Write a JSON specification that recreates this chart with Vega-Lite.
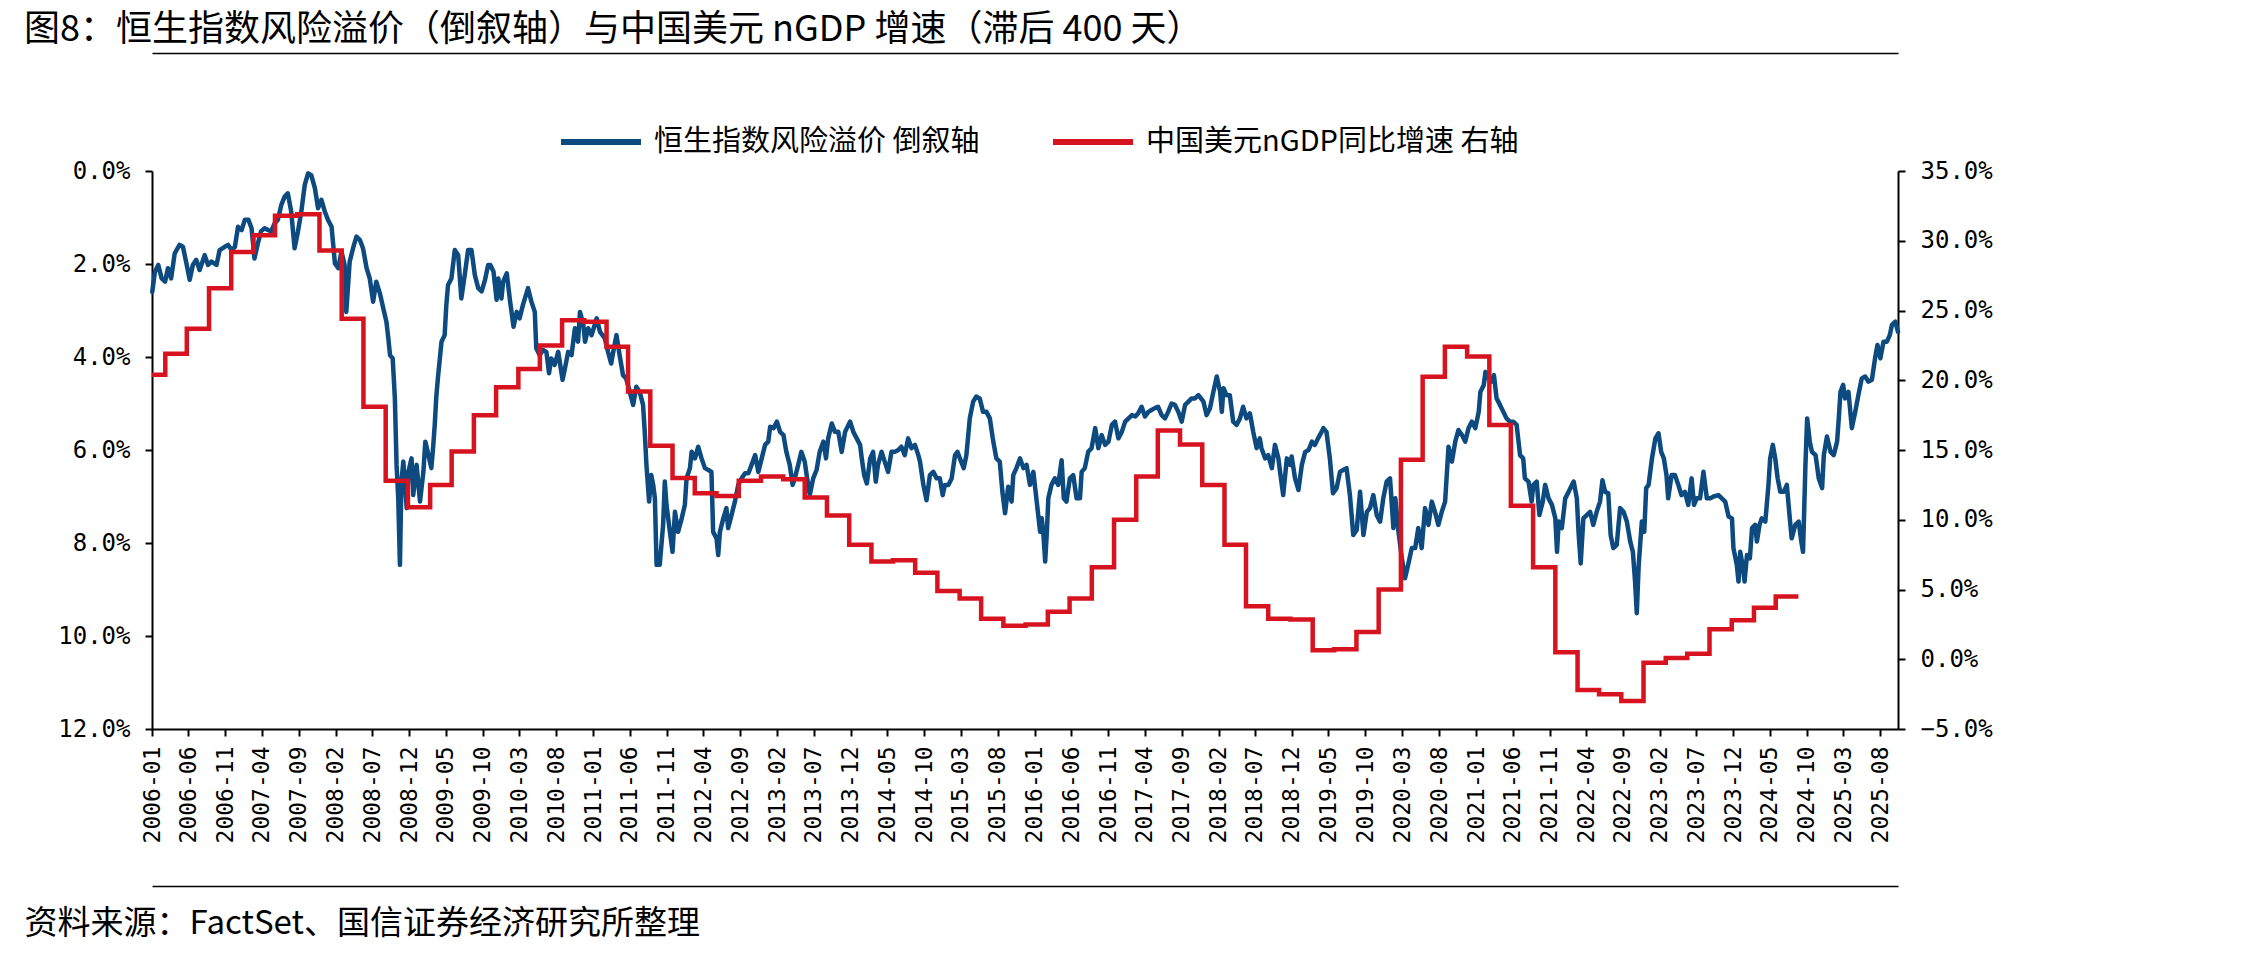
{
  "$schema": "https://vega.github.io/schema/vega-lite/v6.json",
  "description": "Hang Seng index equity risk premium (inverted left axis) against China's USD nominal GDP growth lagged 400 days (right axis).",
  "width": 1746,
  "height": 558,
  "autosize": {"type": "none"},
  "padding": {"left": 152, "top": 171, "right": 346, "bottom": 224},
  "background": "#ffffff",
  "title": {
    "text": "图8：恒生指数风险溢价（倒叙轴）与中国美元 nGDP 增速（滞后 400 天）",
    "anchor": "start",
    "frame": "group",
    "dx": -128,
    "offset": 4,
    "font": "Noto Sans CJK SC",
    "fontSize": 36,
    "fontWeight": "normal",
    "color": "#000000"
  },
  "datasets": {
    "hsi": [
      {"date": "2006-01-02", "premium": 2.60}, {"date": "2006-01-13", "premium": 2.17}, {"date": "2006-01-27", "premium": 2.02}, {"date": "2006-02-10", "premium": 2.31}, {"date": "2006-02-24", "premium": 2.38}, {"date": "2006-03-08", "premium": 2.09}, {"date": "2006-03-21", "premium": 2.31}, {"date": "2006-04-05", "premium": 1.77}, {"date": "2006-04-25", "premium": 1.59}, {"date": "2006-05-09", "premium": 1.63}, {"date": "2006-05-22", "premium": 1.95}, {"date": "2006-06-06", "premium": 2.34}, {"date": "2006-06-19", "premium": 2.02}, {"date": "2006-07-03", "premium": 1.91}, {"date": "2006-07-17", "premium": 2.13}, {"date": "2006-08-07", "premium": 1.81}, {"date": "2006-08-21", "premium": 2.02}, {"date": "2006-09-04", "premium": 1.95}, {"date": "2006-09-25", "premium": 2.02}, {"date": "2006-10-08", "premium": 1.70}, {"date": "2006-10-29", "premium": 1.63}, {"date": "2006-11-12", "premium": 1.59}, {"date": "2006-11-26", "premium": 1.70}, {"date": "2006-12-10", "premium": 1.63}, {"date": "2006-12-23", "premium": 1.20},
      {"date": "2007-01-07", "premium": 1.27}, {"date": "2007-01-20", "premium": 1.05}, {"date": "2007-02-04", "premium": 1.05}, {"date": "2007-02-17", "premium": 1.23}, {"date": "2007-03-01", "premium": 1.88}, {"date": "2007-03-15", "premium": 1.56}, {"date": "2007-03-28", "premium": 1.30}, {"date": "2007-04-12", "premium": 1.23}, {"date": "2007-04-26", "premium": 1.27}, {"date": "2007-05-09", "premium": 1.30}, {"date": "2007-05-23", "premium": 1.13}, {"date": "2007-06-06", "premium": 1.05}, {"date": "2007-06-20", "premium": 0.73}, {"date": "2007-07-04", "premium": 0.55}, {"date": "2007-07-17", "premium": 0.48}, {"date": "2007-07-31", "premium": 0.87}, {"date": "2007-08-14", "premium": 1.66}, {"date": "2007-08-28", "premium": 1.30}, {"date": "2007-09-11", "premium": 0.87}, {"date": "2007-09-25", "premium": 0.30}, {"date": "2007-10-09", "premium": 0.05}, {"date": "2007-10-22", "premium": 0.09}, {"date": "2007-11-06", "premium": 0.37}, {"date": "2007-11-19", "premium": 0.80}, {"date": "2007-12-03", "premium": 0.62}, {"date": "2007-12-17", "premium": 0.87}, {"date": "2007-12-30", "premium": 1.05},
      {"date": "2008-01-14", "premium": 1.20}, {"date": "2008-01-28", "premium": 1.99}, {"date": "2008-02-11", "premium": 2.09}, {"date": "2008-02-24", "premium": 1.73}, {"date": "2008-03-08", "premium": 2.02}, {"date": "2008-03-15", "premium": 3.03}, {"date": "2008-03-29", "premium": 1.95}, {"date": "2008-04-12", "premium": 1.66}, {"date": "2008-04-26", "premium": 1.41}, {"date": "2008-05-10", "premium": 1.48}, {"date": "2008-05-23", "premium": 1.66}, {"date": "2008-06-07", "premium": 2.09}, {"date": "2008-06-20", "premium": 2.31}, {"date": "2008-07-04", "premium": 2.81}, {"date": "2008-07-17", "premium": 2.38}, {"date": "2008-08-01", "premium": 2.63}, {"date": "2008-08-15", "premium": 2.95}, {"date": "2008-08-28", "premium": 3.24}, {"date": "2008-09-05", "premium": 3.60}, {"date": "2008-09-12", "premium": 3.96}, {"date": "2008-09-23", "premium": 4.03}, {"date": "2008-10-02", "premium": 4.89}, {"date": "2008-10-09", "premium": 6.32}, {"date": "2008-10-16", "premium": 7.04}, {"date": "2008-10-23", "premium": 8.47}, {"date": "2008-10-29", "premium": 6.68}, {"date": "2008-11-06", "premium": 6.25}, {"date": "2008-11-20", "premium": 7.25}, {"date": "2008-11-27", "premium": 6.47}, {"date": "2008-12-10", "premium": 6.18}, {"date": "2008-12-17", "premium": 6.97}, {"date": "2008-12-31", "premium": 6.32},
      {"date": "2009-01-14", "premium": 7.11}, {"date": "2009-01-28", "premium": 6.47}, {"date": "2009-02-05", "premium": 5.82}, {"date": "2009-02-18", "premium": 6.11}, {"date": "2009-03-02", "premium": 6.39}, {"date": "2009-03-09", "premium": 5.96}, {"date": "2009-03-16", "premium": 5.46}, {"date": "2009-03-22", "premium": 4.89}, {"date": "2009-03-29", "premium": 4.46}, {"date": "2009-04-13", "premium": 3.67}, {"date": "2009-04-26", "premium": 3.53}, {"date": "2009-05-03", "premium": 2.88}, {"date": "2009-05-10", "premium": 2.45}, {"date": "2009-05-24", "premium": 2.31}, {"date": "2009-06-07", "premium": 1.70}, {"date": "2009-06-21", "premium": 1.81}, {"date": "2009-07-04", "premium": 2.74}, {"date": "2009-07-18", "premium": 2.24}, {"date": "2009-08-01", "premium": 1.70}, {"date": "2009-08-15", "premium": 1.70}, {"date": "2009-08-29", "premium": 2.24}, {"date": "2009-09-12", "premium": 2.52}, {"date": "2009-09-26", "premium": 2.59}, {"date": "2009-10-10", "premium": 2.34}, {"date": "2009-10-23", "premium": 2.02}, {"date": "2009-11-01", "premium": 2.02}, {"date": "2009-11-14", "premium": 2.16}, {"date": "2009-11-27", "premium": 2.77}, {"date": "2009-12-04", "premium": 2.31}, {"date": "2009-12-17", "premium": 2.74}, {"date": "2009-12-24", "premium": 2.38},
      {"date": "2010-01-08", "premium": 2.20}, {"date": "2010-01-22", "premium": 2.81}, {"date": "2010-02-05", "premium": 3.35}, {"date": "2010-02-18", "premium": 3.03}, {"date": "2010-03-02", "premium": 3.17}, {"date": "2010-03-16", "premium": 2.88}, {"date": "2010-04-06", "premium": 2.52}, {"date": "2010-04-20", "premium": 2.81}, {"date": "2010-05-04", "premium": 3.03}, {"date": "2010-05-10", "premium": 3.81}, {"date": "2010-05-24", "premium": 3.96}, {"date": "2010-06-07", "premium": 3.85}, {"date": "2010-06-21", "premium": 3.89}, {"date": "2010-07-02", "premium": 4.35}, {"date": "2010-07-11", "premium": 4.03}, {"date": "2010-07-25", "premium": 4.17}, {"date": "2010-08-09", "premium": 3.89}, {"date": "2010-08-27", "premium": 4.49}, {"date": "2010-09-06", "premium": 4.24}, {"date": "2010-09-19", "premium": 3.89}, {"date": "2010-10-03", "premium": 3.96}, {"date": "2010-10-17", "premium": 3.38}, {"date": "2010-10-30", "premium": 3.67}, {"date": "2010-11-07", "premium": 3.03}, {"date": "2010-11-21", "premium": 3.31}, {"date": "2010-11-28", "premium": 3.67}, {"date": "2010-12-11", "premium": 3.38}, {"date": "2010-12-25", "premium": 3.53},
      {"date": "2011-01-15", "premium": 3.17}, {"date": "2011-01-29", "premium": 3.46}, {"date": "2011-02-18", "premium": 3.60}, {"date": "2011-03-03", "premium": 3.89}, {"date": "2011-03-16", "premium": 4.14}, {"date": "2011-03-30", "premium": 3.74}, {"date": "2011-04-07", "premium": 3.53}, {"date": "2011-04-20", "premium": 3.96}, {"date": "2011-05-04", "premium": 4.39}, {"date": "2011-05-17", "premium": 4.46}, {"date": "2011-06-01", "premium": 4.75}, {"date": "2011-06-15", "premium": 5.03}, {"date": "2011-06-28", "premium": 4.64}, {"date": "2011-07-12", "premium": 4.75}, {"date": "2011-07-26", "premium": 5.03}, {"date": "2011-08-02", "premium": 5.61}, {"date": "2011-08-09", "premium": 6.32}, {"date": "2011-08-20", "premium": 7.11}, {"date": "2011-08-29", "premium": 6.54}, {"date": "2011-09-06", "premium": 6.75}, {"date": "2011-09-13", "premium": 7.04}, {"date": "2011-09-20", "premium": 8.47}, {"date": "2011-10-03", "premium": 8.47}, {"date": "2011-10-17", "premium": 7.61}, {"date": "2011-10-24", "premium": 6.68}, {"date": "2011-10-31", "premium": 7.18}, {"date": "2011-11-14", "premium": 7.76}, {"date": "2011-11-25", "premium": 8.19}, {"date": "2011-12-05", "premium": 7.33}, {"date": "2011-12-18", "premium": 7.76},
      {"date": "2012-01-02", "premium": 7.47}, {"date": "2012-01-15", "premium": 7.18}, {"date": "2012-01-22", "premium": 6.61}, {"date": "2012-02-05", "premium": 6.39}, {"date": "2012-02-12", "premium": 6.04}, {"date": "2012-02-26", "premium": 6.18}, {"date": "2012-03-10", "premium": 5.93}, {"date": "2012-03-24", "premium": 6.18}, {"date": "2012-04-07", "premium": 6.39}, {"date": "2012-04-21", "premium": 6.43}, {"date": "2012-05-04", "premium": 6.47}, {"date": "2012-05-11", "premium": 7.76}, {"date": "2012-05-25", "premium": 7.90}, {"date": "2012-06-01", "premium": 8.26}, {"date": "2012-06-08", "premium": 7.76}, {"date": "2012-06-22", "premium": 7.47}, {"date": "2012-07-05", "premium": 7.25}, {"date": "2012-07-12", "premium": 7.68}, {"date": "2012-07-26", "premium": 7.40}, {"date": "2012-08-09", "premium": 7.11}, {"date": "2012-08-23", "premium": 6.75}, {"date": "2012-09-06", "premium": 6.61}, {"date": "2012-09-20", "premium": 6.50}, {"date": "2012-10-04", "premium": 6.50}, {"date": "2012-10-17", "premium": 6.32}, {"date": "2012-11-01", "premium": 6.11}, {"date": "2012-11-14", "premium": 6.47}, {"date": "2012-11-28", "premium": 6.18}, {"date": "2012-12-12", "premium": 5.89}, {"date": "2012-12-25", "premium": 5.82},
      {"date": "2013-01-02", "premium": 5.50}, {"date": "2013-01-16", "premium": 5.53}, {"date": "2013-01-30", "premium": 5.39}, {"date": "2013-02-12", "premium": 5.61}, {"date": "2013-02-26", "premium": 5.68}, {"date": "2013-03-10", "premium": 6.04}, {"date": "2013-03-24", "premium": 6.32}, {"date": "2013-04-05", "premium": 6.75}, {"date": "2013-04-14", "premium": 6.61}, {"date": "2013-04-28", "premium": 6.32}, {"date": "2013-05-11", "premium": 6.04}, {"date": "2013-05-25", "premium": 6.25}, {"date": "2013-06-02", "premium": 6.54}, {"date": "2013-06-15", "premium": 6.97}, {"date": "2013-06-29", "premium": 6.61}, {"date": "2013-07-13", "premium": 6.43}, {"date": "2013-07-26", "premium": 6.04}, {"date": "2013-08-10", "premium": 5.82}, {"date": "2013-08-21", "premium": 6.18}, {"date": "2013-08-30", "premium": 5.75}, {"date": "2013-09-14", "premium": 5.43}, {"date": "2013-09-27", "premium": 5.61}, {"date": "2013-10-11", "premium": 5.61}, {"date": "2013-10-25", "premium": 6.04}, {"date": "2013-11-08", "premium": 5.61}, {"date": "2013-11-22", "premium": 5.46}, {"date": "2013-11-29", "premium": 5.39}, {"date": "2013-12-12", "premium": 5.61}, {"date": "2013-12-26", "premium": 5.75},
      {"date": "2014-01-09", "premium": 5.89}, {"date": "2014-01-16", "premium": 6.18}, {"date": "2014-01-26", "premium": 6.54}, {"date": "2014-02-06", "premium": 6.72}, {"date": "2014-02-20", "premium": 6.18}, {"date": "2014-03-04", "premium": 6.04}, {"date": "2014-03-15", "premium": 6.68}, {"date": "2014-03-24", "premium": 6.32}, {"date": "2014-04-08", "premium": 6.04}, {"date": "2014-04-21", "premium": 6.25}, {"date": "2014-05-05", "premium": 6.47}, {"date": "2014-05-19", "premium": 6.04}, {"date": "2014-06-02", "premium": 6.04}, {"date": "2014-06-16", "premium": 6.00}, {"date": "2014-06-29", "premium": 5.93}, {"date": "2014-07-13", "premium": 6.11}, {"date": "2014-07-27", "premium": 5.75}, {"date": "2014-08-10", "premium": 5.96}, {"date": "2014-08-24", "premium": 5.89}, {"date": "2014-09-07", "premium": 6.11}, {"date": "2014-09-14", "premium": 6.25}, {"date": "2014-09-28", "premium": 6.75}, {"date": "2014-10-11", "premium": 7.08}, {"date": "2014-10-25", "premium": 6.54}, {"date": "2014-11-08", "premium": 6.47}, {"date": "2014-11-22", "premium": 6.61}, {"date": "2014-12-05", "premium": 6.61}, {"date": "2014-12-17", "premium": 6.97}, {"date": "2014-12-26", "premium": 6.75},
      {"date": "2015-01-10", "premium": 6.75}, {"date": "2015-01-23", "premium": 6.61}, {"date": "2015-02-06", "premium": 6.11}, {"date": "2015-02-16", "premium": 6.04}, {"date": "2015-02-26", "premium": 6.18}, {"date": "2015-03-14", "premium": 6.39}, {"date": "2015-03-25", "premium": 6.11}, {"date": "2015-04-08", "premium": 5.32}, {"date": "2015-04-22", "premium": 4.96}, {"date": "2015-05-05", "premium": 4.85}, {"date": "2015-05-19", "premium": 4.89}, {"date": "2015-06-02", "premium": 5.18}, {"date": "2015-06-16", "premium": 5.18}, {"date": "2015-06-30", "premium": 5.32}, {"date": "2015-07-13", "premium": 5.78}, {"date": "2015-07-27", "premium": 6.18}, {"date": "2015-08-10", "premium": 6.25}, {"date": "2015-08-21", "premium": 6.90}, {"date": "2015-09-01", "premium": 7.36}, {"date": "2015-09-14", "premium": 6.79}, {"date": "2015-09-28", "premium": 7.11}, {"date": "2015-10-05", "premium": 6.54}, {"date": "2015-10-18", "premium": 6.39}, {"date": "2015-11-02", "premium": 6.18}, {"date": "2015-11-16", "premium": 6.39}, {"date": "2015-11-29", "premium": 6.32}, {"date": "2015-12-13", "premium": 6.75}, {"date": "2015-12-27", "premium": 6.47},
      {"date": "2016-01-10", "premium": 7.11}, {"date": "2016-01-24", "premium": 7.76}, {"date": "2016-01-31", "premium": 7.47}, {"date": "2016-02-07", "premium": 7.83}, {"date": "2016-02-14", "premium": 8.40}, {"date": "2016-02-21", "premium": 7.76}, {"date": "2016-02-27", "premium": 7.04}, {"date": "2016-03-11", "premium": 6.75}, {"date": "2016-03-25", "premium": 6.61}, {"date": "2016-04-08", "premium": 6.75}, {"date": "2016-04-22", "premium": 6.22}, {"date": "2016-05-01", "premium": 7.04}, {"date": "2016-05-12", "premium": 7.11}, {"date": "2016-05-26", "premium": 6.61}, {"date": "2016-06-09", "premium": 6.54}, {"date": "2016-06-23", "premium": 7.04}, {"date": "2016-07-07", "premium": 7.04}, {"date": "2016-07-14", "premium": 6.47}, {"date": "2016-07-27", "premium": 6.39}, {"date": "2016-08-10", "premium": 6.04}, {"date": "2016-08-24", "premium": 5.96}, {"date": "2016-09-08", "premium": 5.53}, {"date": "2016-09-21", "premium": 5.96}, {"date": "2016-10-05", "premium": 5.68}, {"date": "2016-10-19", "premium": 5.89}, {"date": "2016-11-02", "premium": 5.82}, {"date": "2016-11-16", "premium": 5.46}, {"date": "2016-11-29", "premium": 5.39}, {"date": "2016-12-13", "premium": 5.75}, {"date": "2016-12-27", "premium": 5.61},
      {"date": "2017-01-10", "premium": 5.39}, {"date": "2017-01-24", "premium": 5.32}, {"date": "2017-02-07", "premium": 5.25}, {"date": "2017-02-21", "premium": 5.28}, {"date": "2017-03-05", "premium": 5.21}, {"date": "2017-03-19", "premium": 5.07}, {"date": "2017-04-02", "premium": 5.28}, {"date": "2017-04-16", "premium": 5.18}, {"date": "2017-04-29", "premium": 5.14}, {"date": "2017-05-13", "premium": 5.10}, {"date": "2017-05-26", "premium": 5.07}, {"date": "2017-06-10", "premium": 5.25}, {"date": "2017-06-24", "premium": 5.32}, {"date": "2017-07-07", "premium": 5.18}, {"date": "2017-07-21", "premium": 5.00}, {"date": "2017-08-04", "premium": 5.03}, {"date": "2017-08-18", "premium": 5.18}, {"date": "2017-09-01", "premium": 5.39}, {"date": "2017-09-15", "premium": 5.03}, {"date": "2017-09-29", "premium": 4.96}, {"date": "2017-10-12", "premium": 4.89}, {"date": "2017-10-26", "premium": 4.89}, {"date": "2017-11-09", "premium": 4.82}, {"date": "2017-11-30", "premium": 4.96}, {"date": "2017-12-13", "premium": 5.25}, {"date": "2017-12-27", "premium": 5.10},
      {"date": "2018-01-10", "premium": 4.75}, {"date": "2018-01-24", "premium": 4.42}, {"date": "2018-02-07", "premium": 4.75}, {"date": "2018-02-14", "premium": 5.18}, {"date": "2018-02-21", "premium": 4.67}, {"date": "2018-03-05", "premium": 4.82}, {"date": "2018-03-19", "premium": 4.82}, {"date": "2018-04-02", "premium": 5.39}, {"date": "2018-04-16", "premium": 5.46}, {"date": "2018-04-30", "premium": 5.32}, {"date": "2018-05-13", "premium": 5.07}, {"date": "2018-05-27", "premium": 5.32}, {"date": "2018-06-10", "premium": 5.21}, {"date": "2018-06-24", "premium": 5.61}, {"date": "2018-07-08", "premium": 5.96}, {"date": "2018-07-21", "premium": 5.75}, {"date": "2018-07-28", "premium": 5.96}, {"date": "2018-08-12", "premium": 6.18}, {"date": "2018-08-25", "premium": 6.11}, {"date": "2018-09-09", "premium": 6.39}, {"date": "2018-09-22", "premium": 5.89}, {"date": "2018-10-06", "premium": 6.18}, {"date": "2018-10-13", "premium": 6.47}, {"date": "2018-10-26", "premium": 6.97}, {"date": "2018-11-10", "premium": 6.18}, {"date": "2018-11-23", "premium": 6.32}, {"date": "2018-11-30", "premium": 6.14}, {"date": "2018-12-14", "premium": 6.61}, {"date": "2018-12-28", "premium": 6.86},
      {"date": "2019-01-11", "premium": 6.32}, {"date": "2019-01-25", "premium": 6.04}, {"date": "2019-02-08", "premium": 6.00}, {"date": "2019-02-22", "premium": 5.82}, {"date": "2019-03-06", "premium": 5.89}, {"date": "2019-03-19", "premium": 5.75}, {"date": "2019-04-03", "premium": 5.61}, {"date": "2019-04-10", "premium": 5.53}, {"date": "2019-04-23", "premium": 5.61}, {"date": "2019-05-07", "premium": 6.18}, {"date": "2019-05-20", "premium": 6.93}, {"date": "2019-06-04", "premium": 6.82}, {"date": "2019-06-18", "premium": 6.47}, {"date": "2019-07-01", "premium": 6.43}, {"date": "2019-07-15", "premium": 6.39}, {"date": "2019-07-29", "premium": 6.97}, {"date": "2019-08-12", "premium": 7.83}, {"date": "2019-08-26", "premium": 7.72}, {"date": "2019-09-09", "premium": 6.90}, {"date": "2019-09-23", "premium": 7.83}, {"date": "2019-10-07", "premium": 7.33}, {"date": "2019-10-20", "premium": 7.25}, {"date": "2019-11-03", "premium": 6.97}, {"date": "2019-11-17", "premium": 7.40}, {"date": "2019-12-01", "premium": 7.54}, {"date": "2019-12-14", "premium": 7.04}, {"date": "2019-12-28", "premium": 6.68},
      {"date": "2020-01-11", "premium": 6.61}, {"date": "2020-01-25", "premium": 7.68}, {"date": "2020-02-02", "premium": 7.04}, {"date": "2020-02-15", "premium": 7.76}, {"date": "2020-02-29", "premium": 8.33}, {"date": "2020-03-13", "premium": 8.76}, {"date": "2020-03-26", "premium": 8.47}, {"date": "2020-04-10", "premium": 8.11}, {"date": "2020-04-24", "premium": 8.11}, {"date": "2020-05-07", "premium": 7.68}, {"date": "2020-05-21", "premium": 8.11}, {"date": "2020-06-04", "premium": 7.25}, {"date": "2020-06-18", "premium": 7.61}, {"date": "2020-07-02", "premium": 7.11}, {"date": "2020-07-15", "premium": 7.33}, {"date": "2020-07-29", "premium": 7.61}, {"date": "2020-08-12", "premium": 7.33}, {"date": "2020-08-26", "premium": 7.11}, {"date": "2020-09-09", "premium": 5.93}, {"date": "2020-09-23", "premium": 6.25}, {"date": "2020-10-07", "premium": 5.82}, {"date": "2020-10-20", "premium": 5.57}, {"date": "2020-11-04", "premium": 5.68}, {"date": "2020-11-17", "premium": 5.82}, {"date": "2020-12-01", "premium": 5.53}, {"date": "2020-12-15", "premium": 5.39}, {"date": "2020-12-29", "premium": 5.53},
      {"date": "2021-01-12", "premium": 5.18}, {"date": "2021-01-19", "premium": 4.75}, {"date": "2021-02-02", "premium": 4.60}, {"date": "2021-02-09", "premium": 4.32}, {"date": "2021-02-22", "premium": 4.46}, {"date": "2021-03-06", "premium": 4.53}, {"date": "2021-03-16", "premium": 4.39}, {"date": "2021-03-27", "premium": 4.89}, {"date": "2021-04-10", "premium": 5.03}, {"date": "2021-04-24", "premium": 5.18}, {"date": "2021-05-07", "premium": 5.32}, {"date": "2021-05-21", "premium": 5.39}, {"date": "2021-06-04", "premium": 5.39}, {"date": "2021-06-18", "premium": 5.46}, {"date": "2021-07-02", "premium": 6.11}, {"date": "2021-07-15", "premium": 6.18}, {"date": "2021-07-22", "premium": 6.61}, {"date": "2021-08-06", "premium": 6.68}, {"date": "2021-08-19", "premium": 7.11}, {"date": "2021-08-26", "premium": 6.75}, {"date": "2021-09-09", "premium": 6.68}, {"date": "2021-09-20", "premium": 7.40}, {"date": "2021-10-04", "premium": 7.11}, {"date": "2021-10-14", "premium": 6.75}, {"date": "2021-10-28", "premium": 7.04}, {"date": "2021-11-11", "premium": 7.18}, {"date": "2021-11-25", "premium": 7.47}, {"date": "2021-12-02", "premium": 8.19}, {"date": "2021-12-09", "premium": 7.54}, {"date": "2021-12-22", "premium": 7.68},
      {"date": "2022-01-05", "premium": 7.04}, {"date": "2022-01-19", "premium": 6.90}, {"date": "2022-02-02", "premium": 6.75}, {"date": "2022-02-09", "premium": 6.68}, {"date": "2022-02-22", "premium": 7.04}, {"date": "2022-03-01", "premium": 7.76}, {"date": "2022-03-10", "premium": 8.44}, {"date": "2022-03-21", "premium": 7.47}, {"date": "2022-04-04", "premium": 7.40}, {"date": "2022-04-18", "premium": 7.33}, {"date": "2022-05-01", "premium": 7.61}, {"date": "2022-05-15", "premium": 7.33}, {"date": "2022-05-29", "premium": 7.11}, {"date": "2022-06-08", "premium": 6.65}, {"date": "2022-06-19", "premium": 6.90}, {"date": "2022-07-02", "premium": 6.93}, {"date": "2022-07-12", "premium": 7.83}, {"date": "2022-07-23", "premium": 8.11}, {"date": "2022-08-06", "premium": 8.04}, {"date": "2022-08-20", "premium": 7.25}, {"date": "2022-09-03", "premium": 7.33}, {"date": "2022-09-17", "premium": 7.54}, {"date": "2022-10-01", "premium": 7.97}, {"date": "2022-10-12", "premium": 8.19}, {"date": "2022-10-21", "premium": 8.83}, {"date": "2022-10-28", "premium": 9.51}, {"date": "2022-11-05", "premium": 8.47}, {"date": "2022-11-18", "premium": 7.54}, {"date": "2022-11-28", "premium": 7.76}, {"date": "2022-12-06", "premium": 6.82}, {"date": "2022-12-16", "premium": 6.75}, {"date": "2022-12-30", "premium": 6.18},
      {"date": "2023-01-13", "premium": 5.75}, {"date": "2023-01-26", "premium": 5.64}, {"date": "2023-02-06", "premium": 6.04}, {"date": "2023-02-17", "premium": 6.18}, {"date": "2023-02-28", "premium": 6.54}, {"date": "2023-03-07", "premium": 7.04}, {"date": "2023-03-21", "premium": 6.54}, {"date": "2023-04-04", "premium": 6.54}, {"date": "2023-04-18", "premium": 6.75}, {"date": "2023-05-01", "premium": 6.97}, {"date": "2023-05-15", "premium": 6.90}, {"date": "2023-05-29", "premium": 7.18}, {"date": "2023-06-12", "premium": 6.61}, {"date": "2023-06-22", "premium": 7.18}, {"date": "2023-07-03", "premium": 7.04}, {"date": "2023-07-17", "premium": 7.04}, {"date": "2023-07-31", "premium": 6.47}, {"date": "2023-08-14", "premium": 7.04}, {"date": "2023-08-28", "premium": 7.04}, {"date": "2023-09-11", "premium": 7.00}, {"date": "2023-10-01", "premium": 6.97}, {"date": "2023-10-15", "premium": 7.04}, {"date": "2023-10-29", "premium": 7.11}, {"date": "2023-11-12", "premium": 7.43}, {"date": "2023-11-26", "premium": 7.47}, {"date": "2023-12-02", "premium": 8.11}, {"date": "2023-12-16", "premium": 8.47}, {"date": "2023-12-23", "premium": 8.83}, {"date": "2023-12-30", "premium": 8.19},
      {"date": "2024-01-09", "premium": 8.47}, {"date": "2024-01-17", "premium": 8.83}, {"date": "2024-01-27", "premium": 8.26}, {"date": "2024-02-08", "premium": 8.33}, {"date": "2024-02-17", "premium": 7.68}, {"date": "2024-03-01", "premium": 7.61}, {"date": "2024-03-08", "premium": 7.97}, {"date": "2024-03-19", "premium": 7.61}, {"date": "2024-03-28", "premium": 7.47}, {"date": "2024-04-12", "premium": 7.54}, {"date": "2024-04-25", "premium": 6.75}, {"date": "2024-05-02", "premium": 6.18}, {"date": "2024-05-13", "premium": 5.89}, {"date": "2024-05-23", "premium": 6.18}, {"date": "2024-06-02", "premium": 6.61}, {"date": "2024-06-13", "premium": 6.90}, {"date": "2024-06-27", "premium": 6.90}, {"date": "2024-07-10", "premium": 6.75}, {"date": "2024-07-21", "premium": 7.40}, {"date": "2024-07-30", "premium": 7.90}, {"date": "2024-08-14", "premium": 7.61}, {"date": "2024-08-28", "premium": 7.54}, {"date": "2024-09-08", "premium": 7.97}, {"date": "2024-09-15", "premium": 8.19}, {"date": "2024-09-25", "premium": 6.32}, {"date": "2024-10-02", "premium": 5.32}, {"date": "2024-10-13", "premium": 5.82}, {"date": "2024-10-22", "premium": 6.04}, {"date": "2024-11-06", "premium": 6.11}, {"date": "2024-11-19", "premium": 6.61}, {"date": "2024-12-03", "premium": 6.82}, {"date": "2024-12-10", "premium": 6.11}, {"date": "2024-12-23", "premium": 5.71},
      {"date": "2025-01-07", "premium": 6.04}, {"date": "2025-01-20", "premium": 6.11}, {"date": "2025-02-03", "premium": 5.82}, {"date": "2025-02-10", "premium": 5.32}, {"date": "2025-02-17", "premium": 4.75}, {"date": "2025-02-28", "premium": 4.60}, {"date": "2025-03-08", "premium": 4.89}, {"date": "2025-03-22", "premium": 4.75}, {"date": "2025-04-05", "premium": 5.53}, {"date": "2025-04-19", "premium": 5.18}, {"date": "2025-05-02", "premium": 4.82}, {"date": "2025-05-16", "premium": 4.46}, {"date": "2025-05-30", "premium": 4.42}, {"date": "2025-06-13", "premium": 4.53}, {"date": "2025-06-27", "premium": 4.49}, {"date": "2025-07-10", "premium": 4.03}, {"date": "2025-07-20", "premium": 3.74}, {"date": "2025-08-01", "premium": 4.03}, {"date": "2025-08-14", "premium": 3.67}, {"date": "2025-08-28", "premium": 3.67}, {"date": "2025-09-09", "premium": 3.53}, {"date": "2025-09-18", "premium": 3.31}, {"date": "2025-10-02", "premium": 3.24}, {"date": "2025-10-13", "premium": 3.46}
    ],
    "gdp": [
      {"date": "2006-01-01", "growth": 20.4}, {"date": "2006-02-25", "growth": 21.9}, {"date": "2006-05-25", "growth": 23.7}, {"date": "2006-08-25", "growth": 26.6}, {"date": "2006-11-25", "growth": 29.2},
      {"date": "2007-02-25", "growth": 30.4}, {"date": "2007-05-25", "growth": 31.8}, {"date": "2007-08-25", "growth": 31.9}, {"date": "2007-11-25", "growth": 29.3},
      {"date": "2008-02-25", "growth": 24.4}, {"date": "2008-05-25", "growth": 18.1}, {"date": "2008-08-25", "growth": 12.8}, {"date": "2008-11-25", "growth": 10.9},
      {"date": "2009-02-25", "growth": 12.5}, {"date": "2009-05-25", "growth": 14.9}, {"date": "2009-08-25", "growth": 17.5}, {"date": "2009-11-25", "growth": 19.5},
      {"date": "2010-02-25", "growth": 20.8}, {"date": "2010-05-25", "growth": 22.5}, {"date": "2010-08-25", "growth": 24.3}, {"date": "2010-11-25", "growth": 24.2},
      {"date": "2011-02-25", "growth": 22.4}, {"date": "2011-05-25", "growth": 19.2}, {"date": "2011-08-25", "growth": 15.3}, {"date": "2011-11-25", "growth": 13.0},
      {"date": "2012-02-25", "growth": 11.9}, {"date": "2012-05-25", "growth": 11.7}, {"date": "2012-08-25", "growth": 12.8}, {"date": "2012-11-25", "growth": 13.1},
      {"date": "2013-02-25", "growth": 12.9}, {"date": "2013-05-25", "growth": 11.6}, {"date": "2013-08-25", "growth": 10.3}, {"date": "2013-11-25", "growth": 8.2},
      {"date": "2014-02-25", "growth": 7.0}, {"date": "2014-05-25", "growth": 7.1}, {"date": "2014-08-25", "growth": 6.2}, {"date": "2014-11-25", "growth": 4.9},
      {"date": "2015-02-25", "growth": 4.35}, {"date": "2015-05-25", "growth": 2.9}, {"date": "2015-08-25", "growth": 2.4}, {"date": "2015-11-25", "growth": 2.5},
      {"date": "2016-02-25", "growth": 3.4}, {"date": "2016-05-25", "growth": 4.35}, {"date": "2016-08-25", "growth": 6.6}, {"date": "2016-11-25", "growth": 10.0},
      {"date": "2017-02-25", "growth": 13.1}, {"date": "2017-05-25", "growth": 16.4}, {"date": "2017-08-25", "growth": 15.4}, {"date": "2017-11-25", "growth": 12.5},
      {"date": "2018-02-25", "growth": 8.2}, {"date": "2018-05-25", "growth": 3.8}, {"date": "2018-08-25", "growth": 2.9}, {"date": "2018-11-25", "growth": 2.85},
      {"date": "2019-02-25", "growth": 0.64}, {"date": "2019-05-25", "growth": 0.71}, {"date": "2019-08-25", "growth": 1.95}, {"date": "2019-11-25", "growth": 5.0},
      {"date": "2020-02-25", "growth": 14.3}, {"date": "2020-05-25", "growth": 20.25}, {"date": "2020-08-25", "growth": 22.4}, {"date": "2020-11-25", "growth": 21.7},
      {"date": "2021-02-25", "growth": 16.8}, {"date": "2021-05-25", "growth": 11.0}, {"date": "2021-08-25", "growth": 6.6}, {"date": "2021-11-25", "growth": 0.5},
      {"date": "2022-02-25", "growth": -2.2}, {"date": "2022-05-25", "growth": -2.5}, {"date": "2022-08-25", "growth": -3.0}, {"date": "2022-11-25", "growth": -0.25},
      {"date": "2023-02-25", "growth": 0.09}, {"date": "2023-05-25", "growth": 0.4}, {"date": "2023-08-25", "growth": 2.15}, {"date": "2023-11-25", "growth": 2.8},
      {"date": "2024-02-25", "growth": 3.7}, {"date": "2024-05-25", "growth": 4.5}, {"date": "2024-08-27", "growth": 4.5}
    ]
  },
  "config": {
    "view": {"stroke": null},
    "font": "Noto Sans CJK SC",
    "axis": {
      "grid": false,
      "domainColor": "#000000",
      "domainWidth": 2,
      "tickColor": "#000000",
      "tickWidth": 2,
      "tickSize": 7,
      "labelColor": "#000000",
      "labelFont": "DejaVu Sans Mono",
      "labelFontSize": 23
    },
    "legend": {
      "labelFont": "Noto Sans CJK SC",
      "labelFontSize": 29,
      "labelColor": "#000000",
      "labelLimit": 0
    }
  },
  "resolve": {
    "scale": {"y": "independent"},
    "axis": {"x": "independent", "y": "independent"}
  },
  "layer": [
    {
      "data": {"name": "hsi"},
      "mark": {"type": "line", "strokeWidth": 4.5, "strokeJoin": "round", "strokeCap": "round"},
      "encoding": {
        "x": {
          "field": "date",
          "type": "temporal",
          "scale": {
            "type": "utc",
            "domain": [
              {"year": 2006, "month": 1, "date": 1, "utc": true},
              {"year": 2025, "month": 10, "date": 13, "utc": true}
            ]
          },
          "axis": {
            "orient": "bottom",
            "format": "%Y-%m",
            "labelAngle": -90,
            "labelPadding": 10,
            "labelFontSize": 23,
            "values": [
              {"year": 2006, "month": 1, "date": 1, "utc": true}, {"year": 2006, "month": 6, "date": 1, "utc": true}, {"year": 2006, "month": 11, "date": 1, "utc": true},
              {"year": 2007, "month": 4, "date": 1, "utc": true}, {"year": 2007, "month": 9, "date": 1, "utc": true},
              {"year": 2008, "month": 2, "date": 1, "utc": true}, {"year": 2008, "month": 7, "date": 1, "utc": true}, {"year": 2008, "month": 12, "date": 1, "utc": true},
              {"year": 2009, "month": 5, "date": 1, "utc": true}, {"year": 2009, "month": 10, "date": 1, "utc": true},
              {"year": 2010, "month": 3, "date": 1, "utc": true}, {"year": 2010, "month": 8, "date": 1, "utc": true},
              {"year": 2011, "month": 1, "date": 1, "utc": true}, {"year": 2011, "month": 6, "date": 1, "utc": true}, {"year": 2011, "month": 11, "date": 1, "utc": true},
              {"year": 2012, "month": 4, "date": 1, "utc": true}, {"year": 2012, "month": 9, "date": 1, "utc": true},
              {"year": 2013, "month": 2, "date": 1, "utc": true}, {"year": 2013, "month": 7, "date": 1, "utc": true}, {"year": 2013, "month": 12, "date": 1, "utc": true},
              {"year": 2014, "month": 5, "date": 1, "utc": true}, {"year": 2014, "month": 10, "date": 1, "utc": true},
              {"year": 2015, "month": 3, "date": 1, "utc": true}, {"year": 2015, "month": 8, "date": 1, "utc": true},
              {"year": 2016, "month": 1, "date": 1, "utc": true}, {"year": 2016, "month": 6, "date": 1, "utc": true}, {"year": 2016, "month": 11, "date": 1, "utc": true},
              {"year": 2017, "month": 4, "date": 1, "utc": true}, {"year": 2017, "month": 9, "date": 1, "utc": true},
              {"year": 2018, "month": 2, "date": 1, "utc": true}, {"year": 2018, "month": 7, "date": 1, "utc": true}, {"year": 2018, "month": 12, "date": 1, "utc": true},
              {"year": 2019, "month": 5, "date": 1, "utc": true}, {"year": 2019, "month": 10, "date": 1, "utc": true},
              {"year": 2020, "month": 3, "date": 1, "utc": true}, {"year": 2020, "month": 8, "date": 1, "utc": true},
              {"year": 2021, "month": 1, "date": 1, "utc": true}, {"year": 2021, "month": 6, "date": 1, "utc": true}, {"year": 2021, "month": 11, "date": 1, "utc": true},
              {"year": 2022, "month": 4, "date": 1, "utc": true}, {"year": 2022, "month": 9, "date": 1, "utc": true},
              {"year": 2023, "month": 2, "date": 1, "utc": true}, {"year": 2023, "month": 7, "date": 1, "utc": true}, {"year": 2023, "month": 12, "date": 1, "utc": true},
              {"year": 2024, "month": 5, "date": 1, "utc": true}, {"year": 2024, "month": 10, "date": 1, "utc": true},
              {"year": 2025, "month": 3, "date": 1, "utc": true}, {"year": 2025, "month": 8, "date": 1, "utc": true}
            ],
            "title": "资料来源：FactSet、国信证券经济研究所整理",
            "titleX": -128,
            "titleY": 204,
            "titleAlign": "left",
            "titleBaseline": "alphabetic",
            "titleAngle": 0,
            "titleFont": "Noto Sans CJK SC",
            "titleFontSize": 33,
            "titleFontWeight": "normal",
            "titleColor": "#000000"
          }
        },
        "y": {
          "field": "premium",
          "type": "quantitative",
          "scale": {"domain": [0, 12], "reverse": true, "nice": false, "zero": false},
          "axis": {
            "orient": "left",
            "values": [0, 2, 4, 6, 8, 10, 12],
            "labelExpr": "format(datum.value, '.1f') + '%'",
            "labelPadding": 15,
            "labelFontSize": 24,
            "title": null
          }
        },
        "color": {
          "datum": "恒生指数风险溢价 倒叙轴",
          "type": "nominal",
          "scale": {
            "domain": ["恒生指数风险溢价 倒叙轴", "中国美元nGDP同比增速 右轴"],
            "range": ["#0C4A80", "#D6131F"]
          },
          "legend": {
            "orient": "none",
            "direction": "horizontal",
            "legendX": 406,
            "legendY": -72,
            "title": null,
            "symbolType": "stroke",
            "symbolSize": 6400,
            "symbolStrokeWidth": 6,
            "labelOffset": 10,
            "columnPadding": 61
          }
        }
      }
    },
    {
      "data": {"name": "gdp"},
      "mark": {"type": "line", "interpolate": "step-after", "strokeWidth": 4.5},
      "encoding": {
        "x": {
          "field": "date",
          "type": "temporal",
          "axis": {"orient": "top", "offset": 118, "domain": true, "domainWidth": 1.5, "ticks": false, "labels": false, "title": null}
        },
        "y": {
          "field": "growth",
          "type": "quantitative",
          "scale": {"domain": [-5, 35], "nice": false, "zero": false},
          "axis": {
            "orient": "right",
            "values": [-5, 0, 5, 10, 15, 20, 25, 30, 35],
            "labelExpr": "format(datum.value, '.1f') + '%'",
            "labelPadding": 15,
            "labelFontSize": 24,
            "title": null
          }
        },
        "color": {"datum": "中国美元nGDP同比增速 右轴", "type": "nominal"}
      }
    },
    {
      "data": {"values": []},
      "mark": {"type": "point", "opacity": 0},
      "encoding": {
        "x": {
          "field": "date",
          "type": "temporal",
          "axis": {"orient": "bottom", "offset": 157, "domain": true, "domainWidth": 1.5, "ticks": false, "labels": false, "title": null}
        }
      }
    }
  ]
}
